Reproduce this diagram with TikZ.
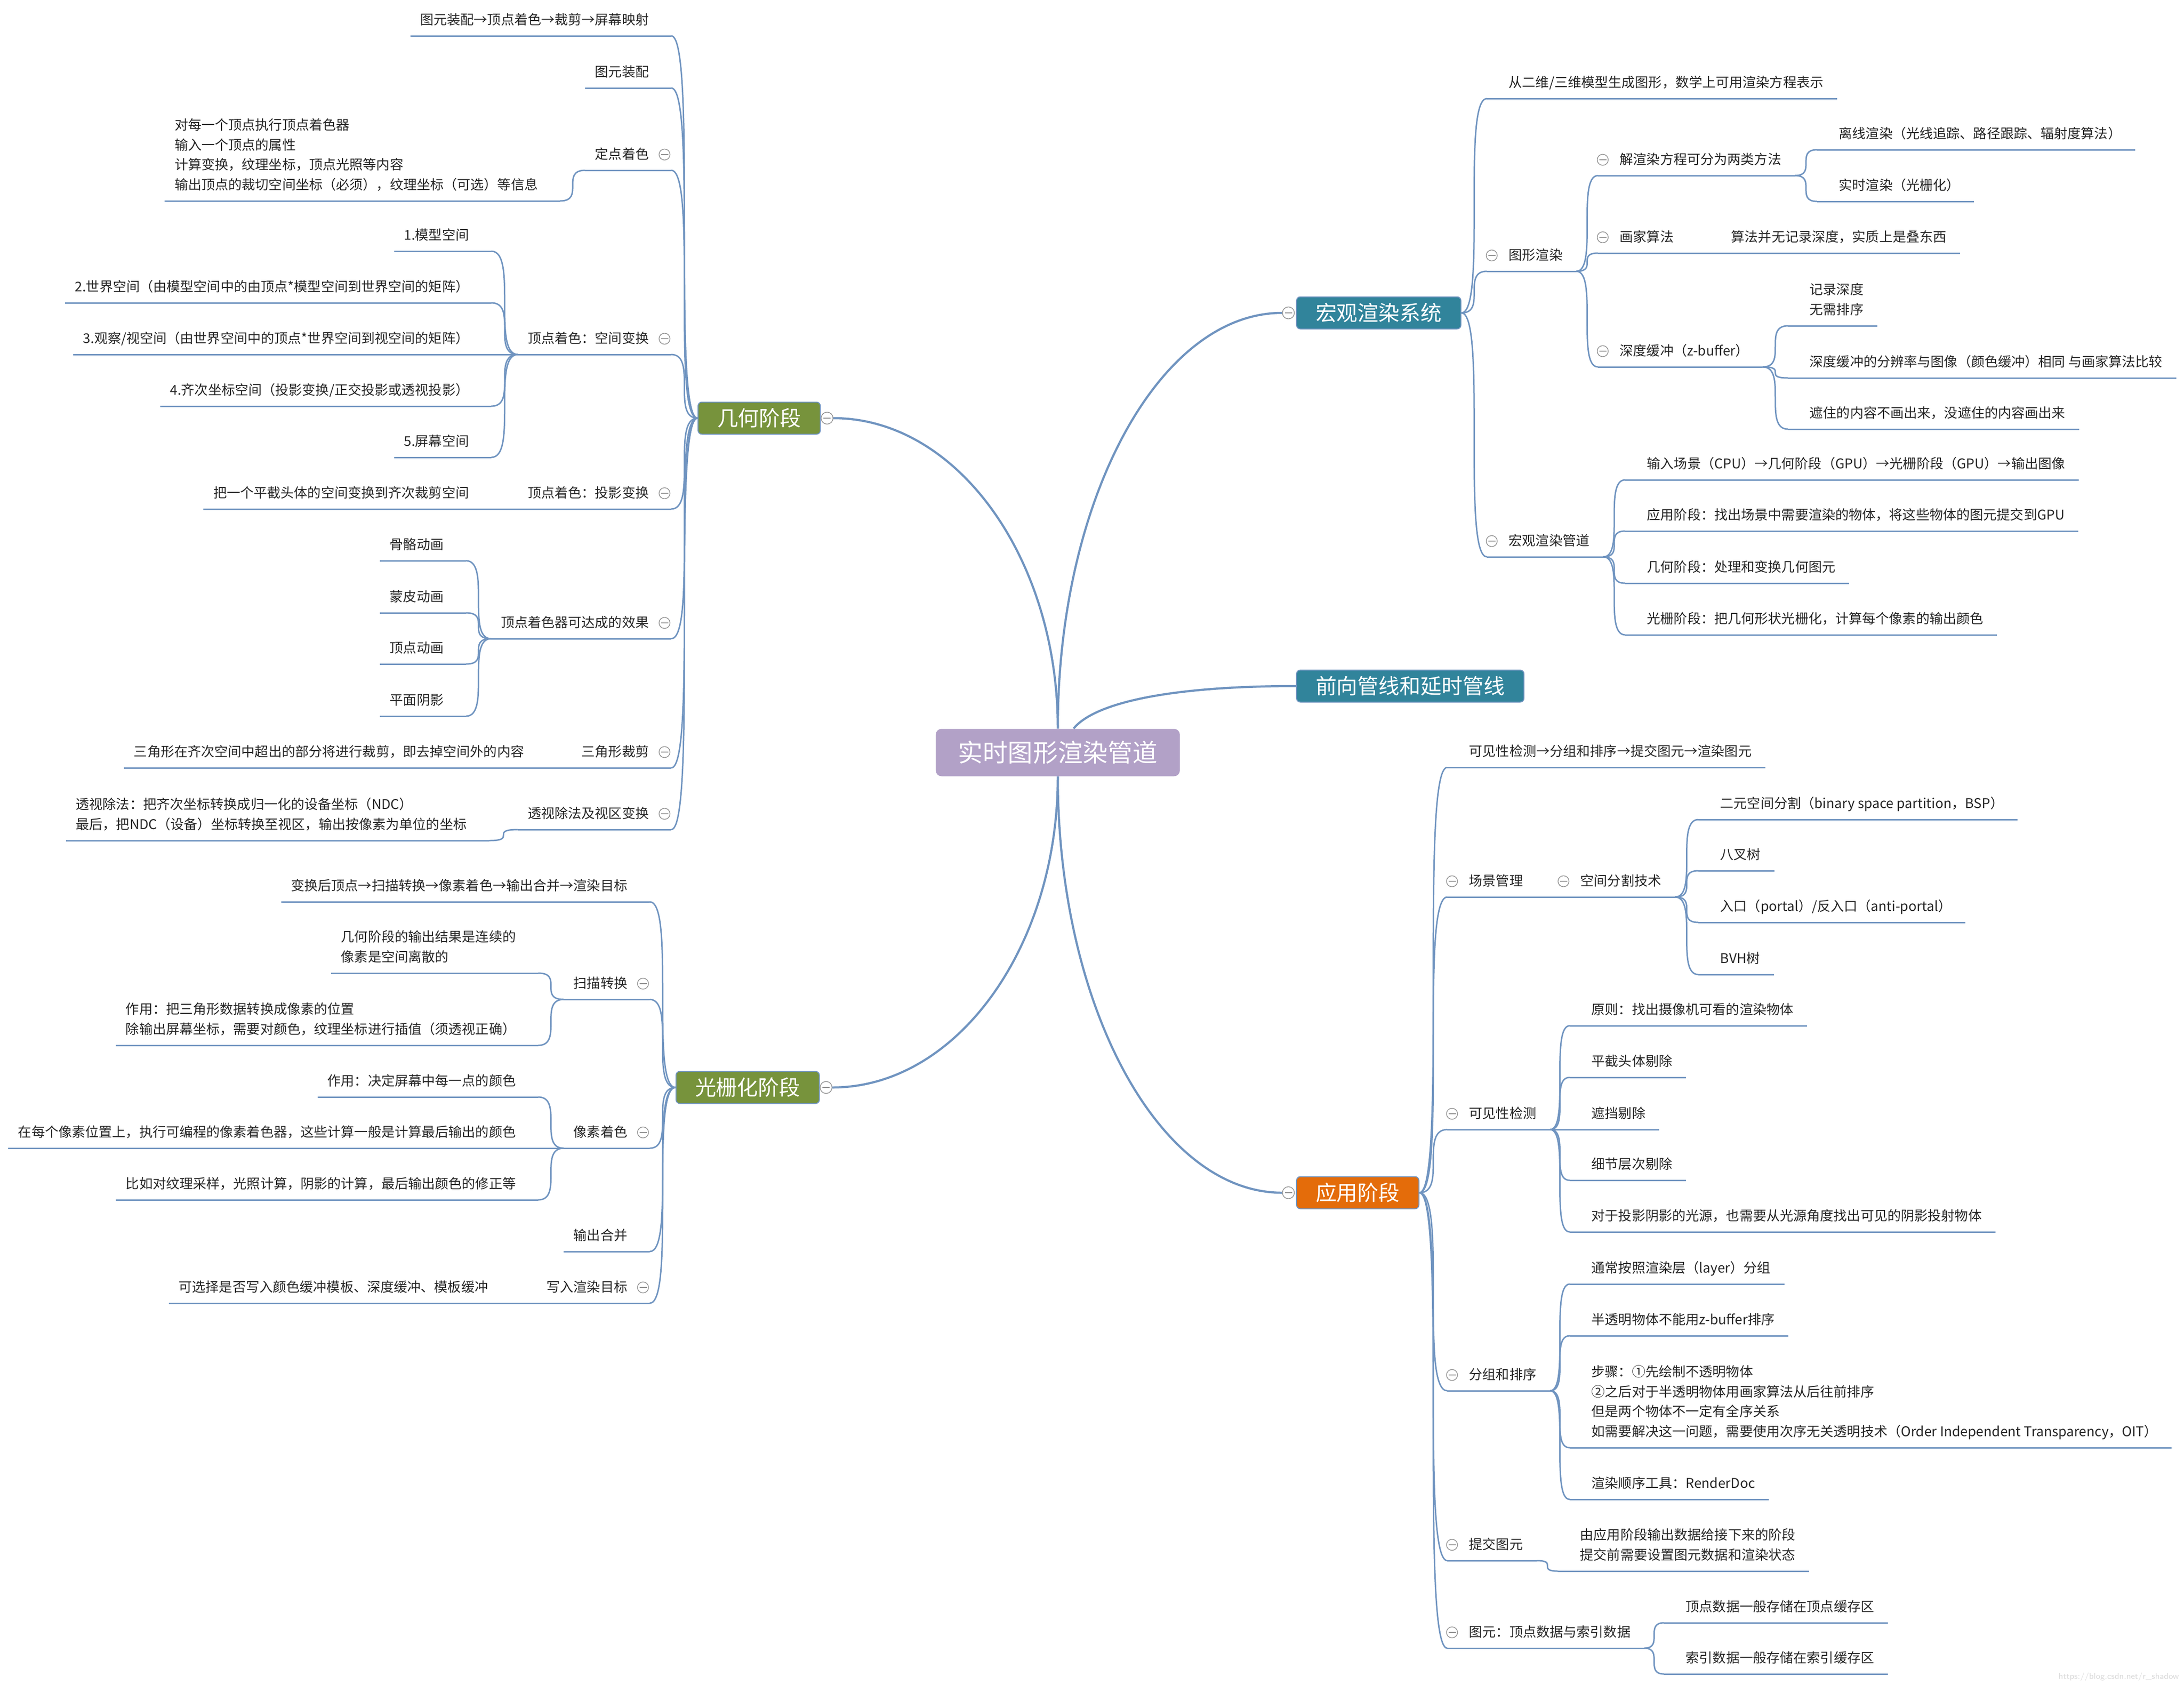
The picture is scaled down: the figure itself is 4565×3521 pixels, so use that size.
\documentclass[tikz,border=0pt]{standalone}
\usepackage{fontspec}
\newfontfamily\cjk{Noto Sans CJK SC}
\usetikzlibrary{calc}

\definecolor{lnc}{HTML}{7094C0}
\definecolor{geoc}{HTML}{77933C}
\definecolor{tealc}{HTML}{31849B}
\definecolor{appc}{HTML}{E46C0A}
\definecolor{rootc}{HTML}{B2A1C7}

% topic on the left side: name, right end of underline, y of underline, text
\newcommand\tpL[4]{%
  \coordinate (#1R) at (#2,#3);
  \node[txt, anchor=south east] (#1) at (#2-46,#3-10) {#4\strut};
  \path (#1.south west) ++(-20,10) coordinate (#1L);
  \draw[ul] (#1L) -- (#1R);}
% topic on the right side: name, left end of underline, y of underline, text
\newcommand\tpR[4]{%
  \coordinate (#1L) at (#2,#3);
  \node[txt, anchor=south west] (#1) at (#2+45,#3-10) {#4\strut};
  \path (#1.south east) ++(28,10) coordinate (#1R);
  \draw[ul] (#1L) -- (#1R);}
% collapse buttons
\newcommand\foldL[1]{\node[fold] (#1F) at ($(#1R)+(-14,-33)$) {};}
\newcommand\foldR[1]{\node[fold] (#1F) at ($(#1L)+(10,-33)$) {};}

\begin{document}
\begin{tikzpicture}[
    x=0.1mm, y=-0.1mm,
    txt/.style={font=\cjk\fontsize{8}{11.9}\selectfont, text=black!85, align=left, inner sep=0pt},
    ul/.style={draw=lnc, line width=0.3mm},
    lk/.style={draw=lnc, line width=0.3mm},
    rootlk/.style={draw=lnc, line width=0.45mm},
    sc/.style={to path={.. controls (\tikztostart -| \tikztotarget) and (\tikztotarget -| \tikztostart) .. (\tikztotarget)}},
    ell/.style={to path={.. controls ($(\tikztostart)!0.55!(\tikztostart |- \tikztotarget)$) and ($(\tikztotarget)!0.55!(\tikztostart |- \tikztotarget)$) .. (\tikztotarget)}},
    fold/.style={circle, draw=gray!85, fill=white, line width=0.15mm, minimum size=2.3mm, inner sep=0pt,
      path picture={\draw[gray!85, line width=0.15mm] ([xshift=-0.75mm]path picture bounding box.center) -- ([xshift=0.75mm]path picture bounding box.center);}},
    stage/.style={rounded corners=0.8mm, draw=lnc, line width=0.2mm, text=white, font=\cjk\fontsize{12.5}{15}\selectfont, minimum height=6.7mm, inner xsep=4mm, inner ysep=0pt},
    rootbox/.style={rounded corners=1.2mm, fill=rootc, text=white, font=\cjk\fontsize{14.8}{18}\selectfont, minimum height=9.9mm, inner xsep=4.7mm, inner ysep=0pt}
  ]

  % Page
  \fill[white] (0,0) rectangle (4565,3521);
  \useasboundingbox (0,0) rectangle (4565,3521);

  % Root and the five stages
  \node[rootbox] (rt) at (2211,1573) {实时图形渲染管道};
  \node[stage, fill=geoc, anchor=west] (geo) at (1458,874) {几何阶段};
  \node[stage, fill=geoc, anchor=west] (ras) at (1412,2273) {光栅化阶段};
  \node[stage, fill=tealc, anchor=west] (mac) at (2709,654) {宏观渲染系统};
  \node[stage, fill=tealc, anchor=west] (fwd) at (2709,1434) {前向管线和延时管线};
  \node[stage, fill=appc, anchor=west] (app) at (2709,2493) {应用阶段};
  \node[fold, minimum size=2.5mm] (geoF) at ($(geo.east)+(13,0)$) {};
  \node[fold, minimum size=2.5mm] (rasF) at ($(ras.east)+(13,0)$) {};
  \node[fold, minimum size=2.5mm] (macF) at ($(mac.west)+(-16,0)$) {};
  \node[fold, minimum size=2.5mm] (appF) at ($(app.west)+(-16,0)$) {};

  % Geometry stage
  \tpL{g1}{1403}{75}{图元装配→顶点着色→裁剪→屏幕映射}
  \tpL{g2}{1403}{184}{图元装配}
  \tpL{g3}{1403}{356}{定点着色}
  \tpL{g3a}{1171}{420}{对每一个顶点执行顶点着色器\\输入一个顶点的属性\\计算变换，纹理坐标，顶点光照等内容\\输出顶点的裁切空间坐标（必须），纹理坐标（可选）等信息}
  \tpL{g4}{1403}{741}{顶点着色：空间变换}
  \tpL{g4a}{1027}{525}{1.模型空间}
  \tpL{g4b}{1027}{633}{2.世界空间（由模型空间中的由顶点*模型空间到世界空间的矩阵）}
  \tpL{g4c}{1027}{741}{3.观察/视空间（由世界空间中的顶点*世界空间到视空间的矩阵）}
  \tpL{g4d}{1027}{849}{4.齐次坐标空间（投影变换/正交投影或透视投影）}
  \tpL{g4e}{1027}{956}{5.屏幕空间}
  \tpL{g5}{1403}{1064}{顶点着色：投影变换}
  \tpL{g5a}{1027}{1064}{把一个平截头体的空间变换到齐次裁剪空间}
  \tpL{g6}{1403}{1335}{顶点着色器可达成的效果}
  \tpL{g6a}{974}{1172}{骨骼动画}
  \tpL{g6b}{974}{1281}{蒙皮动画}
  \tpL{g6c}{974}{1388}{顶点动画}
  \tpL{g6d}{974}{1497}{平面阴影}
  \tpL{g7}{1403}{1605}{三角形裁剪}
  \tpL{g7a}{1142}{1605}{三角形在齐次空间中超出的部分将进行裁剪，即去掉空间外的内容}
  \tpL{g8}{1403}{1734}{透视除法及视区变换}
  \tpL{g8a}{1022}{1757}{透视除法：把齐次坐标转换成归一化的设备坐标（NDC）\\最后，把NDC（设备）坐标转换至视区，输出按像素为单位的坐标}

  % Raster stage
  \tpL{r1}{1358}{1885}{变换后顶点→扫描转换→像素着色→输出合并→渲染目标}
  \tpL{r2}{1358}{2089}{扫描转换}
  \tpL{r2a}{1125}{2034}{几何阶段的输出结果是连续的\\像素是空间离散的}
  \tpL{r2b}{1125}{2185}{作用：把三角形数据转换成像素的位置\\除输出屏幕坐标，需要对颜色，纹理坐标进行插值（须透视正确）}
  \tpL{r3}{1358}{2400}{像素着色}
  \tpL{r3a}{1125}{2293}{作用：决定屏幕中每一点的颜色}
  \tpL{r3b}{1125}{2400}{在每个像素位置上，执行可编程的像素着色器，这些计算一般是计算最后输出的颜色}
  \tpL{r3c}{1125}{2508}{比如对纹理采样，光照计算，阴影的计算，最后输出颜色的修正等}
  \tpL{r4}{1358}{2616}{输出合并}
  \tpL{r5}{1358}{2724}{写入渲染目标}
  \tpL{r5a}{1067}{2724}{可选择是否写入颜色缓冲模板、深度缓冲、模板缓冲}

  % Macro rendering system
  \tpR{m1}{3108}{206}{从二维/三维模型生成图形，数学上可用渲染方程表示}
  \tpR{m2}{3108}{567}{图形渲染}
  \tpR{m2a}{3340}{367}{解渲染方程可分为两类方法}
  \tpR{m2a1}{3798}{313}{离线渲染（光线追踪、路径跟踪、辐射度算法）}
  \tpR{m2a2}{3798}{421}{实时渲染（光栅化）}
  \tpR{m2b}{3340}{529}{画家算法}
  \tpR{m2b1}{3573}{529}{算法并无记录深度，实质上是叠东西}
  \tpR{m2c}{3340}{767}{深度缓冲（z-buffer）}
  \tpR{m2c1}{3737}{681}{记录深度\\无需排序}
  \tpR{m2c2}{3737}{790}{深度缓冲的分辨率与图像（颜色缓冲）相同 与画家算法比较}
  \tpR{m2c3}{3737}{897}{遮住的内容不画出来，没遮住的内容画出来}
  \tpR{m3}{3108}{1164}{宏观渲染管道}
  \tpR{m3a}{3397}{1003}{输入场景（CPU）→几何阶段（GPU）→光栅阶段（GPU）→输出图像}
  \tpR{m3b}{3397}{1110}{应用阶段：找出场景中需要渲染的物体，将这些物体的图元提交到GPU}
  \tpR{m3c}{3397}{1219}{几何阶段：处理和变换几何图元}
  \tpR{m3d}{3397}{1327}{光栅阶段：把几何形状光栅化，计算每个像素的输出颜色}

  % Application stage
  \tpR{a1}{3025}{1604}{可见性检测→分组和排序→提交图元→渲染图元}
  \tpR{a2}{3025}{1875}{场景管理}
  \tpR{a2a}{3258}{1875}{空间分割技术}
  \tpR{a2a1}{3550}{1713}{二元空间分割（binary space partition，BSP）}
  \tpR{a2a2}{3550}{1820}{八叉树}
  \tpR{a2a3}{3550}{1928}{入口（portal）/反入口（anti-portal）}
  \tpR{a2a4}{3550}{2037}{BVH树}
  \tpR{a3}{3025}{2361}{可见性检测}
  \tpR{a3a}{3281}{2144}{原则：找出摄像机可看的渲染物体}
  \tpR{a3b}{3281}{2252}{平截头体剔除}
  \tpR{a3c}{3281}{2361}{遮挡剔除}
  \tpR{a3d}{3281}{2467}{细节层次剔除}
  \tpR{a3e}{3281}{2575}{对于投影阴影的光源，也需要从光源角度找出可见的阴影投射物体}
  \tpR{a4}{3025}{2907}{分组和排序}
  \tpR{a4a}{3281}{2684}{通常按照渲染层（layer）分组}
  \tpR{a4b}{3281}{2792}{半透明物体不能用z-buffer排序}
  \tpR{a4c}{3281}{3026}{步骤：①先绘制不透明物体\\②之后对于半透明物体用画家算法从后往前排序\\但是两个物体不一定有全序关系\\如需要解决这一问题，需要使用次序无关透明技术（Order Independent Transparency，OIT）}
  \tpR{a4d}{3281}{3134}{渲染顺序工具：RenderDoc}
  \tpR{a5}{3025}{3262}{提交图元}
  \tpR{a5a}{3257}{3284}{由应用阶段输出数据给接下来的阶段\\提交前需要设置图元数据和渲染状态}
  \tpR{a6}{3025}{3445}{图元：顶点数据与索引数据}
  \tpR{a6a}{3478}{3392}{顶点数据一般存储在顶点缓存区}
  \tpR{a6b}{3478}{3499}{索引数据一般存储在索引缓存区}

  % Root branches
  \draw[rootlk] (rt.north) to[ell] (geoF.east);
  \draw[rootlk] (rt.north) to[ell] (macF.west);
  \draw[rootlk] (rt.south) to[ell] (rasF.east);
  \draw[rootlk] (rt.south) to[ell] (appF.west);
  \draw[rootlk] ($(rt.north)+(33,0)$) .. controls +(45,-55) and +(-260,0) .. (fwd.west);

  % Stage spines
  \foreach \c in {g1,g2,g3,g4,g5,g6,g7,g8}
    {\draw[lk] (geo.west) to[sc] (\c R);}
  \foreach \c in {r1,r2,r3,r4,r5}
    {\draw[lk] (ras.west) to[sc] (\c R);}
  \foreach \c in {m1,m2,m3}
    {\draw[lk] (mac.east) to[sc] (\c L);}
  \foreach \c in {a1,a2,a3,a4,a5,a6}
    {\draw[lk] (app.east) to[sc] (\c L);}

  % Sub branches, left side
  \foreach \p/\c in {g3/g3a, g4/g4a, g4/g4b, g4/g4c, g4/g4d, g4/g4e, g5/g5a,
      g6/g6a, g6/g6b, g6/g6c, g6/g6d, g7/g7a, g8/g8a,
      r2/r2a, r2/r2b, r3/r3a, r3/r3b, r3/r3c, r5/r5a}
    {\draw[lk] (\p L) to[sc] (\c R);}

  % Sub branches, right side
  \foreach \p/\c in {m2/m2a, m2/m2b, m2/m2c, m2a/m2a1, m2a/m2a2, m2b/m2b1,
      m2c/m2c1, m2c/m2c2, m2c/m2c3, m3/m3a, m3/m3b, m3/m3c, m3/m3d,
      a2/a2a, a2a/a2a1, a2a/a2a2, a2a/a2a3, a2a/a2a4,
      a3/a3a, a3/a3b, a3/a3c, a3/a3d, a3/a3e,
      a4/a4a, a4/a4b, a4/a4c, a4/a4d, a5/a5a, a6/a6a, a6/a6b}
    {\draw[lk] (\p R) to[sc] (\c L);}

  % Collapse buttons
  \foreach \c in {g3,g4,g5,g6,g7,g8,r2,r3,r5}
    {\foldL{\c}}
  \foreach \c in {m2,m2a,m2b,m2c,m3,a2,a2a,a3,a4,a5,a6}
    {\foldR{\c}}

  % Watermark
  \node[font=\sffamily\fontsize{5}{6}\selectfont, text=gray!30, anchor=south east, inner sep=0pt] (wm) at (4555,3515) {https://blog.csdn.net/r\_shadow};
\end{tikzpicture}
\end{document}
